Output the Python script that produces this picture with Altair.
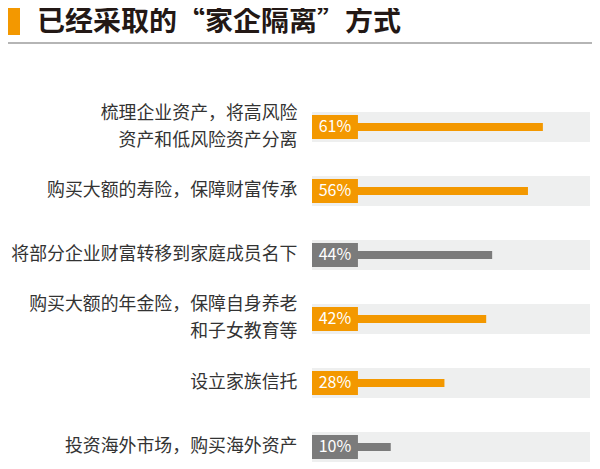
import altair as alt
import pandas as pd

categories = [
    "梳理企业资产，将高风险|资产和低风险资产分离",
    "购买大额的寿险，保障财富传承",
    "将部分企业财富转移到家庭成员名下",
    "购买大额的年金险，保障自身养老|和子女教育等",
    "设立家族信托",
    "投资海外市场，购买海外资产",
]
values = [61, 56, 44, 42, 28, 10]
groups = ["o", "o", "g", "o", "o", "g"]

df = pd.DataFrame({"cat": categories, "value": values, "grp": groups})
df["label"] = df["value"].astype(str) + "%"
df["lo"] = -16.4
df["hi"] = 76.8
df["boxend"] = -1.0
df["mid"] = -8.7

FONT = "Noto Sans CJK SC"
ORANGE = "#F39800"
GRAY = "#7B7B7B"

xs = alt.Scale(domain=[-16.4, 76.8], range=[0, 278], nice=False, zero=False)
ys = alt.Scale(paddingInner=0.53, paddingOuter=0)
yenc = alt.Y("cat:N", sort=categories, scale=ys,
             axis=alt.Axis(title=None, domain=False, ticks=False, grid=False,
                           labelExpr="split(datum.label, '|')",
                           labelOffset={"condition": {"test": "indexof(datum.label, '|') >= 0",
                                                      "value": -13.5},
                                        "value": 0},
                           labelFont=FONT, labelFontSize=17.9, labelColor="#333333",
                           labelLineHeight=27, labelPadding=15, labelLimit=400))
color = alt.Color("grp:N", scale=alt.Scale(domain=["o", "g"], range=[ORANGE, GRAY]), legend=None)

base = alt.Chart(df)

bg = base.mark_rect(color="#EEEFEF").encode(
    y=yenc, x=alt.X("lo:Q", scale=xs, axis=None), x2="hi:Q")

bar = base.mark_bar(size=8).encode(
    y=yenc, x=alt.X("lo:Q", scale=xs, axis=None), x2="value:Q", color=color)

box = base.mark_bar(size=24).encode(
    y=yenc, x=alt.X("lo:Q", scale=xs, axis=None), x2="boxend:Q", color=color)

txt = base.mark_text(color="white", font=FONT, fontSize=16, align="center",
                     baseline="middle").encode(
    y=yenc, x=alt.X("mid:Q", scale=xs, axis=None), text="label:N")

# decorations (title block)
deco = pd.DataFrame({"t": ["已经采取的“家企隔离”方式"]})
dbase = alt.Chart(deco)
marker = dbase.mark_rect(color=ORANGE).encode(
    x=alt.value(-304), x2=alt.value(-292), y=alt.value(-104), y2=alt.value(-77))
title = dbase.mark_text(font=FONT, fontSize=28, fontWeight="bold", color="#231815",
                        align="left", baseline="middle").encode(
    x=alt.value(-275), y=alt.value(-89.5), text="t:N")
rule = dbase.mark_rule(color="#9C9C9C", strokeWidth=1.6).encode(
    x=alt.value(-304), x2=alt.value(280), y=alt.value(-69))

chart = alt.layer(bg, bar, box, txt, marker, title, rule).properties(
    width=278, height=350,
    autosize=alt.AutoSizeParams(type="none"),
    padding={"left": 304, "top": 104, "right": 2, "bottom": 2},
).configure_view(stroke=None)

chart.save("out.html", embed_options={"renderer": "svg", "actions": False})
